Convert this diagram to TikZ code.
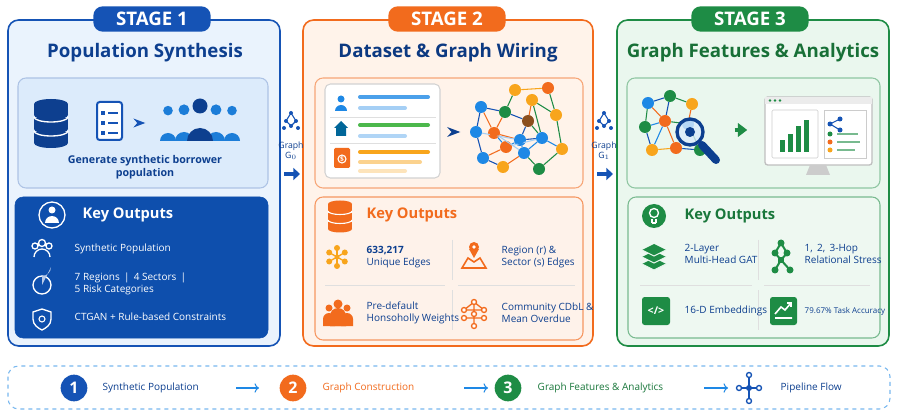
\documentclass[tikz,border=0pt]{standalone}
\usepackage{fontspec}
\setmainfont{Open Sans}
\usetikzlibrary{arrows.meta,shapes.geometric}
\definecolor{bl}{HTML}{1553B5}
\definecolor{dbl}{HTML}{0D3F8F}
\definecolor{kbl}{HTML}{0E4FAD}
\definecolor{lbl}{HTML}{EAF3FD}
\definecolor{lbl2}{HTML}{DCEBFB}
\definecolor{or}{HTML}{F26B1D}
\definecolor{lor}{HTML}{FFF3EA}
\definecolor{lor2}{HTML}{FDE6D6}
\definecolor{gr}{HTML}{1E8C45}
\definecolor{lgr}{HTML}{EAF7EE}
\definecolor{lgr2}{HTML}{DDF1E3}
\definecolor{yel}{HTML}{F8A51C}
\definecolor{brn}{HTML}{8B4F1E}
\definecolor{mbl}{HTML}{1E88E5}
\tikzset{
 panel/.style={rounded corners=8pt,line width=1.2pt},
 banner/.style={rounded corners=7pt,text=white,font=\bfseries\fontsize{14}{16}\selectfont,minimum width=88pt,minimum height=19pt},
 ttl/.style={font=\bfseries\fontsize{14}{17}\selectfont},
 ko/.style={font=\bfseries\fontsize{11}{13}\selectfont,anchor=west},
 itm/.style={font=\fontsize{7.5}{9}\selectfont,anchor=west,align=left},
 bot/.style={font=\fontsize{7.5}{9}\selectfont,anchor=west},
 gn/.style={circle,inner sep=0pt,minimum size=9pt},
 ge/.style={line width=0.8pt},
 num/.style={circle,text=white,font=\bfseries\fontsize{12}{12}\selectfont,minimum size=20pt,inner sep=0pt},
}
\begin{document}
\begin{tikzpicture}[x=0.75pt,y=-0.75pt]
\useasboundingbox (0,0) rectangle (898,416);
\fill[white] (0,0) rectangle (898,416);
% ===== panels
\draw[panel,bl,fill=lbl] (8,20) rectangle (280,346);
\draw[panel,or,fill=lor] (303,20) rectangle (593,346);
\draw[panel,gr,fill=lgr] (617,20) rectangle (889,346);
\node[banner,fill=bl] (b1) at (152,19) {STAGE 1};
\node[banner,fill=or] (b2) at (447,19) {STAGE 2};
\node[banner,fill=gr] (b3) at (750,19) {STAGE 3};
\node[ttl,text=dbl] (t1) at (145,53) {Population Synthesis};
\node[ttl,text=dbl!90!black] (t2) at (448,53) {Dataset \& Graph Wiring};
\node[ttl,text=gr!80!black] (t3) at (753,53) {Graph Features \& Analytics};
% ===== inner top boxes
\draw[rounded corners=6pt,bl!35,fill=lbl2,line width=0.8pt] (18,78) rectangle (268,188);
\draw[rounded corners=6pt,or!60,fill=lor,line width=0.8pt] (315,78) rectangle (583,188);
\draw[rounded corners=6pt,gr!50,fill=lgr,line width=0.8pt] (627,78) rectangle (880,188);
% stage1 icons: database
\foreach \yy in {132,118,104}{\fill[dbl] (34,\yy) rectangle (68,\yy+11);\fill[dbl] (51,\yy+11) ellipse (17pt*0.75 and 5pt*0.75);}
\fill[dbl] (51,104) ellipse (17pt*0.75 and 5pt*0.75);
\draw[white,line width=1pt] (34,117) arc[start angle=180,end angle=0,x radius=17,y radius=5];
\draw[white,line width=1pt] (34,131) arc[start angle=180,end angle=0,x radius=17,y radius=5];
% list doc
\draw[bl,line width=1.5pt,rounded corners=2pt,fill=white] (97,102) rectangle (122,140);
\foreach \yy in {111,121,131}{\fill[bl] (101,\yy) rectangle +(4,4);\draw[bl,line width=1.3pt] (108,\yy+2)--(118,\yy+2);}
\node (a1s) at (132,123) {};\node (a1e) at (150,123) {};
\draw[-{Stealth},bl,line width=1.3pt] (a1s)--(a1e);
% people
\foreach \px/\sc in {168/0.8,232/0.8,184/0.9,216/0.9}{
 \fill[mbl!85!dbl] (\px,117-8*\sc) circle (6*\sc);
 \fill[mbl!85!dbl] (\px-10*\sc,141) arc[start angle=180,end angle=360,radius=10*\sc] -- cycle;}
\fill[dbl] (200,106) circle (7.5);\fill[dbl] (187,141) arc[start angle=180,end angle=360,radius=13] -- cycle;
\node[font=\bfseries\fontsize{8}{10}\selectfont,text=dbl,align=center] (g1) at (145,167) {Generate synthetic borrower\\population};
% ===== key outputs 1
\draw[rounded corners=6pt,fill=kbl,draw=kbl] (15,197) rectangle (268,338);
\draw[white,line width=1pt] (52,215) circle (13);
\fill[white] (52,210) circle (3.5); \fill[white] (45,223) arc[start angle=180,end angle=360,radius=7]--cycle;
\node[ko,text=white] (k1) at (78,215) {Key Outputs};
\draw[white,line width=1pt] (42,243) circle (3.5) (35,246) circle (3) (49,246) circle (3);
\draw[white,line width=1pt] (34,257) arc[start angle=180,end angle=360,radius=8];
\node[itm,text=white] (i11) at (70,249) {Synthetic Population};
\draw[white,line width=1pt] (42,285) circle (9);\fill[white!70!bl] (42,285)--(42,276) arc[start angle=90,end angle=0,radius=9]--cycle;
\node[itm,text=white] (i12) at (70,284) {7 Regions \,|\, 4 Sectors \,|\\5 Risk Categories};
\draw[white,line width=1pt] (42,309)--(51,312)--(51,319)..controls (51,325) and (46,328)..(42,330)..controls (38,328) and (33,325)..(33,319)--(33,312)--cycle;
\draw[white,line width=0.8pt] (42,319) circle (3);
\node[itm,text=white] (i13) at (70,317) {CTGAN + Rule-based Constraints};
% ===== connectors G0, G1
\foreach \cx/\lab/\nm in {291/0/ga,604/1/gb}{
 \draw[bl,line width=0.8pt] (\cx,113)--(\cx-5,121)--(\cx,126)--(\cx+5,121)--cycle;
 \foreach \dx/\dy in {0/113,-5/121,5/121,0/126,-7/128,7/128}{\fill[bl] (\cx+\dx,\dy) circle (2);}
 \node[font=\fontsize{6.5}{7}\selectfont,text=dbl,align=center] (\nm) at (\cx,151) {Graph\\G$_\lab$};
 \coordinate (\nm s) at (\cx-7,174); \coordinate (\nm e) at (\cx+9,174);
 \draw[-{Triangle[length=5pt,width=9pt]},bl,line width=3pt] (\nm s)--(\nm e);}
% ===== stage 2 card
\draw[rounded corners=4pt,gray!35,fill=white,line width=0.8pt] (325,84) rectangle (440,178);
\fill[mbl] (341,99) circle (3.5); \fill[mbl] (335,111) arc[start angle=180,end angle=360,radius=6]--cycle;
\draw[mbl!80,line width=3pt,line cap=round] (360,97)--(428,97); \draw[mbl!40,line width=3pt,line cap=round] (360,108)--(405,108);
\draw[gray!25] (330,117)--(436,117);
\fill[teal!80!blue] (334,128)--(341,121)--(348,128)--(346,128)--(346,136)--(336,136)--(336,128)--cycle;
\draw[green!60!black!70,line width=3pt,line cap=round] (360,125)--(428,125); \draw[mbl!35,line width=3pt,line cap=round] (360,136)--(405,136);
\draw[gray!25] (330,143)--(436,143);
\fill[or,rounded corners=1pt] (334,148) rectangle (350,168); \draw[white,line width=0.8pt] (342,159) circle (4);
\node[font=\bfseries\fontsize{5}{5}\selectfont,text=white] (dol) at (342,159) {\$};
\draw[yel,line width=3pt,line cap=round] (360,152)--(428,152); \draw[yel!50,line width=3pt,line cap=round] (360,162)--(420,162); \draw[yel!30,line width=3pt,line cap=round] (360,171)--(405,171);
\node (a2s) at (448,132) {};\node (a2e) at (465,132) {};
\draw[-{Stealth},dbl,line width=1.5pt] (a2s)--(a2e);
% graph
\begin{scope}
\foreach \n/\x/\y/\c in {n1/481/107/mbl,n2/505/112/gr,n3/532/100/yel,n4/556/115/yel,n5/476/132/mbl,n6/494/133/or,n7/528/121/brn,n8/520/140/mbl,n9/542/138/mbl,n10/562/149/yel,n11/483/158/mbl,n12/506/147/or,n13/524/153/mbl,n14/503/167/yel,n15/539/169/gr,n16/515/90/yel,n17/548/88/or}
 {\node[gn,fill=\c] (\n) at (\x,\y) {};}
\foreach \a/\b/\c in {n1/n2/bl,n2/n16/gr,n16/n17/yel,n17/n4/gr,n3/n4/gr,n1/n5/bl,n1/n6/or,n2/n6/or,n2/n7/bl,n3/n7/or,n5/n11/bl,n6/n8/or,n7/n8/bl,n7/n9/gr,n8/n9/bl,n4/n10/gr,n9/n10/mbl,n11/n12/or,n12/n8/mbl,n8/n13/mbl,n13/n9/mbl,n11/n14/bl,n14/n13/or,n13/n15/gr,n15/n10/gr,n6/n12/mbl,n5/n8/mbl!40,n6/n13/mbl!40,n12/n9/mbl!40,n3/n9/gr}
 {\draw[ge,\c] (\a)--(\b);}
\foreach \n/\c in {n1/mbl,n2/gr,n3/yel,n4/yel,n5/mbl,n6/or,n7/brn,n8/mbl,n9/mbl,n10/yel,n11/mbl,n12/or,n13/mbl,n14/yel,n15/gr,n16/yel,n17/or}{\fill[\c] (\n) circle (4.5);}
\end{scope}
% ===== key outputs 2
\draw[rounded corners=6pt,or!70,fill=lor2!50,line width=0.8pt] (315,197) rectangle (583,340);
\foreach \yy in {222,213,204}{\fill[or] (328,\yy) rectangle (352,\yy+7);\fill[or] (340,\yy+7) ellipse (12 and 3.5);}
\fill[or] (340,204) ellipse (12 and 3.5);
\draw[white,line width=0.8pt] (328,211) arc[start angle=180,end angle=0,x radius=12,y radius=3.5] (328,220) arc[start angle=180,end angle=0,x radius=12,y radius=3.5];
\node[ko,text=or] (k2) at (362,215) {Key Outputs};
\draw[gray!25] (452,240)--(452,280) (452,290)--(452,330) (325,285)--(445,285) (458,285)--(575,285);
% item icons
\fill[yel] (337,257) circle (2.5); \foreach \ang in {30,90,150,210,270,330}{\draw[yel,line width=1pt] (337,257)--++(\ang:9); \fill[yel] (337,257)++(\ang:9) circle (3);}
\node[itm,text=dbl] (i21) at (362,257) {\textbf{633,217}\\Unique Edges};
\draw[or,line width=1.2pt] (462,268)--(468,258)--(474,262)--(480,258)--(486,268)--cycle;
\fill[or] (474,247) circle (5); \fill[or] (469,249)--(479,249)--(474,258)--cycle; \fill[white] (474,247) circle (1.8);
\node[itm,text=dbl] (i22) at (497,257) {Region (r) \&\\Sector (s) Edges};
\fill[or] (338,304) circle (4.5) (329,308) circle (3.5) (347,308) circle (3.5);
\fill[or] (330,326)--(330,318) arc[start angle=180,end angle=360,radius=8]--(346,326)--cycle;
\fill[or] (323,326)--(323,319) arc[start angle=180,end angle=360,radius=6]--(335,326)--cycle;
\fill[or] (341,326)--(341,319) arc[start angle=180,end angle=360,radius=6]--(353,326)--cycle;
\fill[or] (330,326)--(330,316) arc[start angle=180,end angle=360,radius=8]--(346,326)--cycle;
\node[itm,text=dbl] (i23) at (362,313) {Pre-default\\Honsoholly Weights};
\draw[or,line width=1pt] (474,302)--(474,326) (464,310)--(484,310) (464,318)--(484,318) (474,302)--(464,310) (474,302)--(484,310);
\foreach \px/\py in {474/302,464/310,484/310,474/314,464/318,484/318,474/326}{\draw[or,fill=white,line width=1pt] (\px,\py) circle (2.5);}
\node[itm,text=dbl] (i24) at (497,313) {Community CDbL \&\\Mean Overdue};
% ===== stage 3 inner
\foreach \n/\x/\y/\c in {m1/648/103/mbl,m2/670/96/gr,m3/692/104/yel,m4/645/127/gr,m5/665/121/or,m6/688/124/mbl,m7/652/150/yel,m8/676/148/or,m9/700/150/gr}
 {\node[gn,fill=\c] (\n) at (\x,\y) {};}
\foreach \a/\b/\c in {m1/m2/bl,m2/m3/gr,m1/m4/gr,m1/m5/or,m2/m5/bl,m3/m6/or,m4/m5/mbl,m5/m6/gr,m4/m7/bl,m5/m8/or,m7/m8/yel,m6/m9/gr,m8/m9/bl,m5/m7/mbl}
 {\draw[ge,\c] (\a)--(\b);}
\draw[dbl,line width=6pt,line cap=round] (702,145)--(716,160);
\draw[dbl,line width=2.5pt,fill=lbl2,fill opacity=0.8] (690,132) circle (13);
\fill[dbl] (690,132) circle (5);
\node (a3s) at (730,130) {};\node (a3e) at (752,130) {};
\draw[-{Triangle[length=7pt,width=10pt]},gr,line width=3pt] (a3s)--(a3e);
\draw[gray!50,rounded corners=2pt,fill=white,line width=1pt] (765,97) rectangle (872,165);
\fill[gray!15] (765,97) rectangle (872,104);
\foreach \px in {770,775,780}{\fill[gr] (\px,100.5) circle (1.3);}
\draw[gray!40,rounded corners=1pt] (772,110) rectangle (818,158);
\foreach \px/\h in {780/12,788/18,796/26,804/32}{\fill[gr] (\px,152) rectangle (\px+5,152-\h);}
\draw[gray!40] (824,110) rectangle (866,158);
\draw[bl,line width=0.8pt] (830,124)--(840,119) (830,124)--(840,130);
\fill[bl] (830,124) circle (2.5) (840,119) circle (2.5) (840,130) circle (2.5);
\fill[or] (830,142) circle (2.5); \fill[yel] (830,150) circle (2.5);\fill[gr] (830,134) circle (2.5);
\draw[gr!60,line width=2pt] (837,142)--(860,142) (837,150)--(855,150) (837,134)--(858,134);
\fill[gray!40] (810,165)--(826,165)--(830,175)--(806,175)--cycle;
% ===== key outputs 3
\draw[rounded corners=6pt,gr!60,fill=lgr2!50,line width=0.8pt] (628,197) rectangle (880,338);
\fill[gr] (654,216) circle (12);
\draw[white,line width=1pt] (654,213) circle (4.5); \draw[white,line width=1pt] (652,219)--(652,223) (656,219)--(656,223) (652,223)--(656,223);
\node[ko,text=gr!85!black] (k3) at (680,216) {Key Outputs};
\draw[gray!25] (758,240)--(758,280) (758,290)--(758,330) (640,285)--(752,285) (764,285)--(870,285);
\foreach \yy in {264,257,250}{\fill[gr] (642,\yy)--(654,\yy-6)--(666,\yy)--(654,\yy+6)--cycle; \draw[lgr,line width=0.8pt] (642,\yy)--(654,\yy+6)--(666,\yy);}
\node[itm,text=dbl] (i31) at (680,254) {2-Layer\\Multi-Head GAT};
\draw[gr,line width=1.5pt] (781,243)--(775,253)--(781,260)--(787,253)--cycle (781,260)--(775,270) (781,260)--(790,270);
\foreach \px/\py in {781/243,775/253,787/253,775/270,790/270}{\fill[gr] (\px,\py) circle (3.5);}
\fill[gr] (778,257) rectangle (784,263);
\node[itm,text=dbl] (i32) at (800,254) {1,\, 2,\, 3-Hop\\Relational Stress};
\fill[gr,rounded corners=2pt] (642,297) rectangle (670,325);
\node[font=\bfseries\fontsize{8}{8}\selectfont,text=white] (code) at (656,311) {</>};
\node[itm,text=dbl] (i33) at (680,311) {16-D Embeddings};
\fill[gr,rounded corners=2pt] (770,297) rectangle (797,325);
\draw[white,line width=1.2pt] (775,318)--(792,318) (775,314)--(781,307)--(785,310)--(791,303);
\draw[white,line width=1pt] (787,303)--(791,303)--(791,307);
\node[itm,text=dbl,font=\fontsize{6}{7}\selectfont] (i34) at (800,311) {79.67\% Task Accuracy};
% ===== bottom bar
\draw[dashed,mbl!60,rounded corners=8pt,line width=0.8pt] (8,366) rectangle (890,409);
\node[num,fill=bl] (c1) at (74,388) {1};
\node[bot,text=dbl] (l1) at (98,388) {Synthetic Population};
\node[num,fill=or] (c2) at (293,388) {2};
\node[bot,text=or] (l2) at (318,388) {Graph Construction};
\node[num,fill=gr] (c3) at (508,388) {3};
\node[bot,text=gr!85!black] (l3) at (533,388) {Graph Features \& Analytics};
\coordinate (p1s) at (236,388);\coordinate (p1e) at (259,388);
\coordinate (p2s) at (464,388);\coordinate (p2e) at (488,388);
\coordinate (p3s) at (704,388);\coordinate (p3e) at (728,388);
\foreach \s/\e in {p1s/p1e,p2s/p2e,p3s/p3e}{\draw[-{To},mbl,line width=0.8pt] (\s)--(\e);}
\draw[bl,line width=1pt] (749,375)--(749,401) (739,388)--(759,388);
\foreach \px/\py in {749/375,749/401,739/388,759/388}{\draw[bl,fill=white,line width=1pt] (\px,\py) circle (2.5);}
\fill[bl] (749,388) circle (3);
\node[bot,text=dbl] (l4) at (776,388) {Pipeline Flow};
\end{tikzpicture}
\end{document}
